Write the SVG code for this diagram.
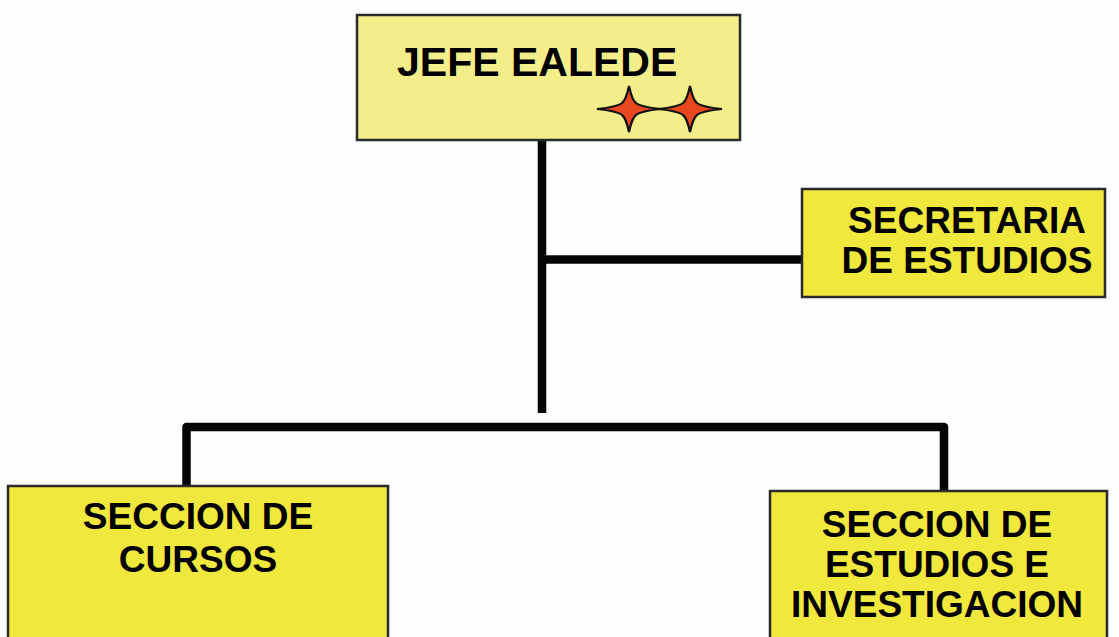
<svg xmlns="http://www.w3.org/2000/svg" xmlns:xlink="http://www.w3.org/1999/xlink" width="1119" height="637" viewBox="0 0 1119 637">
<style>
  .bg { fill: #fdfdfd; }
  .box { stroke: #2a2a2a; stroke-width: 2.5; }
  .pale { fill: #f3ee8a; }
  .bright { fill: #f0e83c; }
  .lbl { font-family: "Liberation Sans", Arial, sans-serif; font-weight: bold; fill: #000; }
  .conn { fill: none; stroke: #050505; stroke-width: 8.5; stroke-linejoin: round; }
  .star { fill: #e9481f; stroke: #111; stroke-width: 2.2; stroke-linejoin: miter; }
</style>
<defs>
  <path id="star4" class="star" d="M0,-23 Q3,-9 7,-6 Q12,-2 32,0 Q12,2 7,6 Q3,9 0,23 Q-3,9 -7,6 Q-12,2 -32,0 Q-12,-2 -7,-6 Q-3,-9 0,-23 Z"/>
</defs>
<rect class="bg" x="0" y="0" width="1119" height="637"/>
<g id="connectors">
  <line class="conn" x1="542" y1="140" x2="542" y2="413"/>
  <line class="conn" x1="542" y1="259.5" x2="802" y2="259.5"/>
  <polyline class="conn" points="186.5,486 186.5,427 944,427 944,491"/>
</g>
<g id="jefe">
  <rect class="box pale" x="357" y="15" width="383" height="125"/>
  <text class="lbl" x="397" y="76" font-size="41">JEFE EALEDE</text>
  <use xlink:href="#star4" x="629" y="109"/>
  <use xlink:href="#star4" x="690" y="109"/>
</g>
<g id="secretaria">
  <rect class="box bright" x="802" y="189" width="303" height="108"/>
  <text class="lbl" font-size="37" text-anchor="middle"><tspan x="967" y="233">SECRETARIA</tspan><tspan x="967" y="273">DE ESTUDIOS</tspan></text>
</g>
<g id="cursos">
  <rect class="box bright" x="8" y="486" width="380" height="160"/>
  <text class="lbl" font-size="37" text-anchor="middle"><tspan x="198" y="529">SECCION DE</tspan><tspan x="198" y="572">CURSOS</tspan></text>
</g>
<g id="investigacion">
  <rect class="box bright" x="770" y="491" width="337" height="160"/>
  <text class="lbl" font-size="37" text-anchor="middle"><tspan x="937" y="537">SECCION DE</tspan><tspan x="937" y="577">ESTUDIOS E</tspan><tspan x="937" y="617">INVESTIGACION</tspan></text>
</g>
</svg>
